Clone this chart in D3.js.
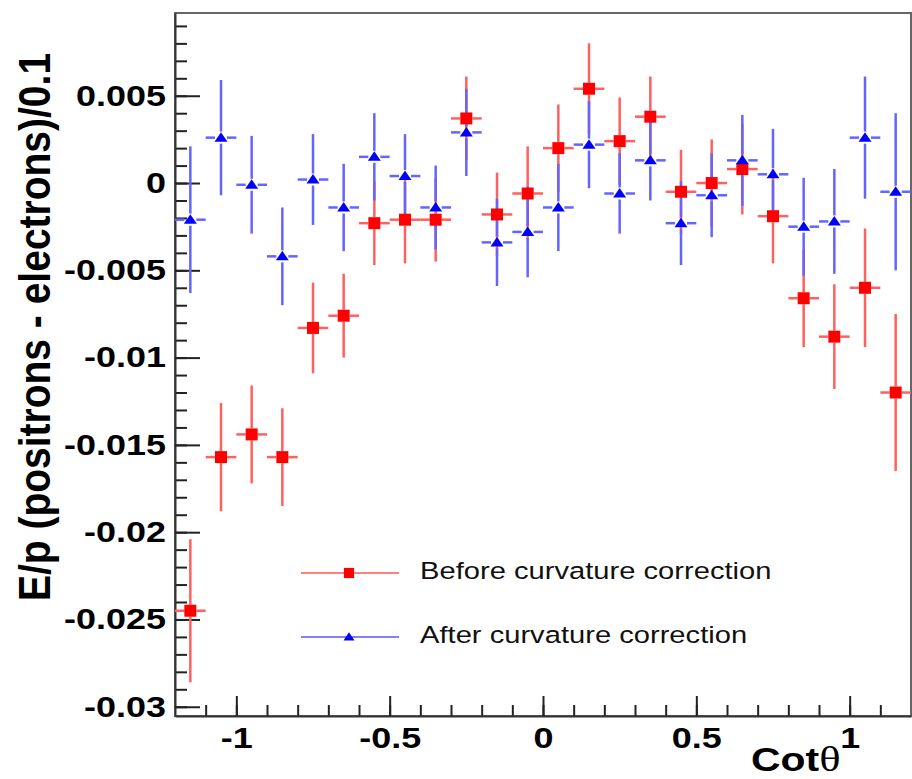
<!DOCTYPE html>
<html>
<head>
    <meta charset="utf-8">
    <title>E/p asymmetry vs cot theta</title>
    <script type="text/javascript" src="https://cdn.jsdelivr.net/npm/d3@7"></script>
    <style>
        body { margin: 0; background: #fff; }
        text { font-family: "Liberation Sans", Arial, sans-serif; }
    </style>
</head>

<body>

<script type="text/javascript">
    // bin centres in cot(theta), bins are 0.1 wide
    var cotTheta = [-1.15, -1.05, -0.95, -0.85, -0.75, -0.65, -0.55, -0.45, -0.35, -0.25, -0.15, -0.05,
                    0.05, 0.15, 0.25, 0.35, 0.45, 0.55, 0.65, 0.75, 0.85, 0.95, 1.05, 1.15];
    var binHalf = 0.05;

    var beforeVals = [-0.0245, -0.0157, -0.0144, -0.0157, -0.0083, -0.0076, -0.0023, -0.0021, -0.0021, 0.0037, -0.0018, -0.0006,
                      0.0020, 0.0054, 0.0024, 0.0038, -0.0005, 0.0000, 0.0008, -0.0019, -0.0066, -0.0088, -0.0060, -0.0120];
    var beforeErrs = [0.0041, 0.0031, 0.0028, 0.0028, 0.0026, 0.0024, 0.0024, 0.0025, 0.0024, 0.0024, 0.0024, 0.0027,
                      0.0025, 0.0026, 0.0025, 0.0023, 0.0024, 0.0025, 0.0026, 0.0027, 0.0028, 0.0030, 0.0034, 0.0045];

    var afterVals = [-0.0021, 0.0026, -0.0001, -0.0042, 0.0002, -0.0014, 0.0015, 0.0004, -0.0014, 0.0029, -0.0034, -0.0028,
                     -0.0014, 0.0022, -0.0006, 0.0013, -0.0023, -0.0007, 0.0013, 0.0005, -0.0025, -0.0022, 0.0026, -0.0005];
    var afterErrs = [0.0042, 0.0033, 0.0028, 0.0028, 0.0026, 0.0025, 0.0025, 0.0024, 0.0024, 0.0025, 0.0025, 0.0026,
                     0.0025, 0.0025, 0.0023, 0.0023, 0.0024, 0.0024, 0.0026, 0.0026, 0.0028, 0.0030, 0.0035, 0.0045];

    var yTicks = [0.005, 0, -0.005, -0.01, -0.015, -0.02, -0.025, -0.03];
    var yTickLabels = ["0.005", "0", "-0.005", "-0.01", "-0.015", "-0.02", "-0.025", "-0.03"];
    var xTicks = [-1, -0.5, 0, 0.5, 1];
    var xTickLabels = ["-1", "-0.5", "0", "0.5", "1"];

    var seriesNames = ["Before curvature correction", "After curvature correction"];

    var width = 912, height = 779;
    var frameL = 175, frameR = 911, frameT = 13, frameB = 716;
    var stretch = 1.24;   // the original text is a little wide

    var svg = d3.select("body").append("svg")
            .attr("width", width)
            .attr("height", height);

    var x = d3.scaleLinear().domain([-1.2, 1.2]).range([frameL, frameR]);
    var y = d3.scaleLinear().domain([-0.03053, 0.00974]).range([frameB, frameT]);

    // frame
    svg.append("rect")
        .attr("x", frameL).attr("y", frameT)
        .attr("width", frameR - frameL).attr("height", frameB - frameT)
        .attr("fill", "none")
        .attr("stroke", "#666")
        .attr("stroke-width", 2);

    function renderYAxis(){
        var minor = svg.append("g")
            .attr("transform", "translate(" + frameL + ",0)")
            .call(d3.axisLeft(y).tickValues(d3.range(-30, 10).map(function(d){ return d / 1000; }))
                  .tickSizeInner(-12).tickSizeOuter(0).tickFormat(""));
        minor.select(".domain").remove();
        minor.selectAll("line").attr("stroke", "#222").attr("stroke-width", 2);

        var major = svg.append("g")
            .attr("transform", "translate(" + frameL + ",0)")
            .call(d3.axisLeft(y).tickValues(yTicks)
                  .tickSizeInner(-25).tickSizeOuter(0).tickPadding(9)
                  .tickFormat(function(d, i){ return yTickLabels[i]; }));
        major.select(".domain").attr("stroke", "#333").attr("stroke-width", 2);
        major.selectAll("line").attr("stroke", "#222").attr("stroke-width", 2);
        major.selectAll("text")
            .attr("x", -9 / stretch)
            .attr("transform", "scale(" + stretch + ",1)")
            .attr("font-size", 29)
            .attr("font-weight", "bold")
            .attr("fill", "#000");
    }

    function renderXAxis(){
        var minor = svg.append("g")
            .attr("transform", "translate(0," + frameB + ")")
            .call(d3.axisBottom(x).tickValues(d3.range(-11, 12).map(function(d){ return d / 10; }))
                  .tickSizeInner(-11).tickSizeOuter(0).tickFormat(""));
        minor.select(".domain").remove();
        minor.selectAll("line").attr("stroke", "#222").attr("stroke-width", 2);

        var major = svg.append("g")
            .attr("transform", "translate(0," + frameB + ")")
            .call(d3.axisBottom(x).tickValues(xTicks)
                  .tickSizeInner(-20).tickSizeOuter(0).tickPadding(11)
                  .tickFormat(function(d, i){ return xTickLabels[i]; }));
        major.select(".domain").attr("stroke", "#333").attr("stroke-width", 2);
        major.selectAll("line").attr("stroke", "#222").attr("stroke-width", 2);
        major.selectAll("text")
            .attr("x", 0)
            .attr("transform", "scale(" + stretch + ",1)")
            .attr("font-size", 29)
            .attr("font-weight", "bold")
            .attr("fill", "#000");
    }

    renderYAxis();
    renderXAxis();

    // axis titles
    svg.append("text")
        .attr("transform", "translate(50,327) rotate(-90) scale(1,1.15)")
        .attr("text-anchor", "middle")
        .attr("font-size", 39)
        .attr("font-weight", "bold")
        .text("E/p (positrons - electrons)/0.1");

    var xTitle = svg.append("text")
        .attr("transform", "translate(751,771) scale(" + stretch + ",1)")
        .attr("font-size", 33)
        .attr("font-weight", "bold");
    xTitle.append("tspan").text("Cot");
    xTitle.append("tspan")
        .attr("font-family", "'Liberation Serif', 'DejaVu Serif', serif")
        .attr("font-weight", "normal")
        .attr("font-size", 36)
        .text("\u03b8");

    // points with error bars, ROOT style (gap round the marker)
    var gap = 6;
    var plot = svg.append("g");

    function rows(vals, errs){
        return cotTheta.map(function(c, i){ return {c: c, v: vals[i], e: errs[i]}; });
    }

    function renderErrors(vals, errs, color){
        var g = plot.append("g")
            .attr("stroke", color)
            .attr("stroke-width", 2.5);
        var data = rows(vals, errs);
        g.selectAll(null).data(data).enter().append("line")
            .attr("x1", function(d){ return x(d.c); }).attr("x2", function(d){ return x(d.c); })
            .attr("y1", function(d){ return y(d.v + d.e); })
            .attr("y2", function(d){ return y(d.v) - gap; });
        g.selectAll(null).data(data).enter().append("line")
            .attr("x1", function(d){ return x(d.c); }).attr("x2", function(d){ return x(d.c); })
            .attr("y1", function(d){ return y(d.v) + gap; })
            .attr("y2", function(d){ return y(d.v - d.e); });
        g.selectAll(null).data(data).enter().append("line")
            .attr("x1", function(d){ return x(d.c - binHalf); }).attr("x2", function(d){ return x(d.c) - gap; })
            .attr("y1", function(d){ return y(d.v); }).attr("y2", function(d){ return y(d.v); });
        g.selectAll(null).data(data).enter().append("line")
            .attr("x1", function(d){ return x(d.c) + gap; }).attr("x2", function(d){ return x(d.c + binHalf); })
            .attr("y1", function(d){ return y(d.v); }).attr("y2", function(d){ return y(d.v); });
    }

    var squarePath = "M-6,-6L6,-6L6,6L-6,6Z";
    var trianglePath = "M0,-5.5L6.5,4L-6.5,4Z";

    function renderMarkers(vals, errs, color, path){
        plot.append("g").selectAll("path")
            .data(rows(vals, errs)).enter().append("path")
            .attr("d", path)
            .attr("fill", color)
            .attr("transform", function(d){ return "translate(" + x(d.c) + "," + y(d.v) + ")"; });
    }

    renderErrors(beforeVals, beforeErrs, "#ff6060");
    renderErrors(afterVals, afterErrs, "#6464ff");
    renderMarkers(beforeVals, beforeErrs, "#ff0000", squarePath);
    renderMarkers(afterVals, afterErrs, "#0000ff", trianglePath);

    // legend
    var legend = [
        {name: seriesNames[0], color: "#ff0000", line: "#ff8080", path: squarePath, y: 573},
        {name: seriesNames[1], color: "#0000ff", line: "#8080ff", path: trianglePath, y: 637}
    ];
    var lg = svg.append("g").selectAll("g").data(legend).enter().append("g")
        .attr("transform", function(d){ return "translate(0," + d.y + ")"; });
    lg.append("line")
        .attr("x1", 301).attr("x2", 399)
        .attr("stroke", function(d){ return d.line; })
        .attr("stroke-width", 2);
    lg.append("path")
        .attr("d", function(d){ return d.path; })
        .attr("fill", function(d){ return d.color; })
        .attr("transform", "translate(349,0) scale(0.85)");
    lg.append("text")
        .attr("transform", "translate(420,6) scale(" + stretch + ",1)")
        .attr("font-size", 23.5)
        .attr("fill", "#111")
        .text(function(d){ return d.name; });
</script>

</body>

</html>
